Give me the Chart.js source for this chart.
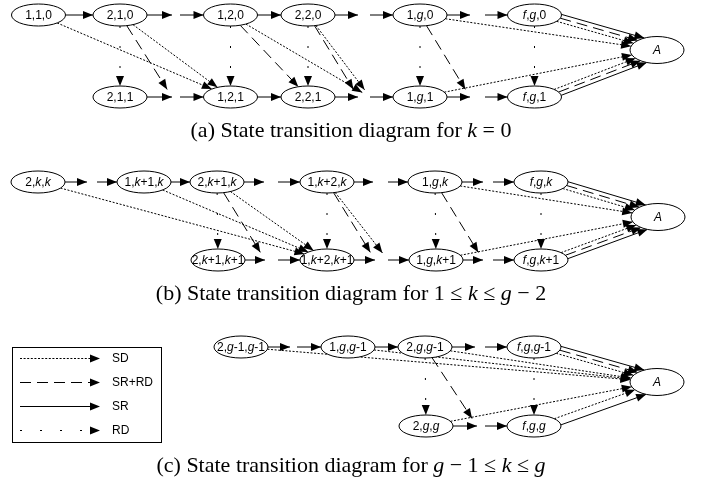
<!DOCTYPE html>
<html><head><meta charset="utf-8">
<script src="https://cdn.jsdelivr.net/npm/chart.js@4/dist/chart.umd.min.js"></script>
<style>html,body{margin:0;padding:0;background:#fff}canvas{display:block}</style>
</head><body>
<canvas id="c" width="707" height="487"></canvas>
<script>
// ---------------- data ----------------
const nodeIds = ['a110','a210','a120','a220','a1g0','afg0','a211','a121','a221','a1g1','afg1','aA',
  'b2kk','b1k1k','b2k1k','b1k2k','b1gk','bfgk','b2k1k1','b1k2k1','b1gk1','bfgk1','bA',
  'c2g1g1','c1gg1','c2gg1','cfgg1','c2gg','cfgg','cA'];
const nodeLabels = ['1,1,0','2,1,0','1,2,0','2,2,0','1,g,0','f,g,0','2,1,1','1,2,1','2,2,1','1,g,1','f,g,1','A',
  '2,k,k','1,k+1,k','2,k+1,k','1,k+2,k','1,g,k','f,g,k','2,k+1,k+1','1,k+2,k+1','1,g,k+1','f,g,k+1','A',
  '2,g-1,g-1','1,g,g-1','2,g,g-1','f,g,g-1','2,g,g','f,g,g','A'];
const nodeX = [38.5,120,230.5,308,420,534.5,120,230.5,308,420,534.5,657,
  38,144,217,327,435,541,218,327,436,541,658,
  241,348,425,534,426,534,657];
const nodeY = [15,15,15,15,15,15,97,97,97,97,97,50,
  182,182,182,182,182,182,260,260,260,260,217,
  347,347,347,347,426,426,382];

const gapIds = ['gat1L','gat1R','gat2L','gat2R','gat3L','gat3R','gab1L','gab1R','gab2L','gab2R','gab3L','gab3R',
  'gbt1L','gbt1R','gbt2L','gbt2R','gbt3L','gbt3R','gbt4L','gbt4R','gbb2L','gbb2R','gbb3L','gbb3R','gbb4L','gbb4R',
  'gct1L','gct1R','gct2L','gct2R','gcb2L','gcb2R'];
const gapX = [172,180,358,370,470,485,172,180,358,370,470,485,
  87,97,264,278,373,388,483,493,265,278,375,388,483,493,
  290,297,475,485,477,485];
const gapY = [15,15,15,15,15,15,97,97,97,97,97,97,
  182,182,182,182,182,182,182,182,260,260,260,260,260,260,
  347,347,347,347,426,426];

const srEdges = [
  ['a110','a210'],['a210','gat1L'],['gat1R','a120'],['a120','a220'],['a220','gat2L'],['gat2R','a1g0'],['a1g0','gat3L'],['gat3R','afg0'],['afg0','aA'],
  ['a211','gab1L'],['gab1R','a121'],['a121','a221'],['a221','gab2L'],['gab2R','a1g1'],['a1g1','gab3L'],['gab3R','afg1'],['afg1','aA'],
  ['b2kk','gbt1L'],['gbt1R','b1k1k'],['b1k1k','b2k1k'],['b2k1k','gbt2L'],['gbt2R','b1k2k'],['b1k2k','gbt3L'],['gbt3R','b1gk'],['b1gk','gbt4L'],['gbt4R','bfgk'],['bfgk','bA'],
  ['b2k1k1','gbb2L'],['gbb2R','b1k2k1'],['b1k2k1','gbb3L'],['gbb3R','b1gk1'],['b1gk1','gbb4L'],['gbb4R','bfgk1'],['bfgk1','bA'],
  ['c2g1g1','gct1L'],['gct1R','c1gg1'],['c1gg1','c2gg1'],['c2gg1','gct2L'],['gct2R','cfgg1'],['cfgg1','cA'],
  ['c2gg','gcb2L'],['gcb2R','cfgg'],['cfgg','cA']];
const rdEdges = [['a210','a211'],['a120','a121'],['a220','a221'],['a1g0','a1g1'],['afg0','afg1'],
  ['b2k1k','b2k1k1'],['b1k2k','b1k2k1'],['b1gk','b1gk1'],['bfgk','bfgk1'],
  ['c2gg1','c2gg'],['cfgg1','cfgg']];
const srrdEdges = [['a210','gab1L'],['a120','a221'],['a220','gab2L'],['a1g0','gab3L'],['afg0','aA'],['afg1','aA'],
  ['b2k1k','gbb2L'],['b1k2k','gbb3L'],['b1gk','gbb4L'],['bfgk','bA'],['bfgk1','bA'],
  ['c2gg1','gcb2L'],['cfgg1','cA']];
const sdEdges = [['a110','a121'],['a210','a121'],['a120','gab2R'],['a220','gab2R'],['a1g0','aA'],['afg0','aA'],['a1g1','aA'],['afg1','aA'],
  ['b2kk','b1k2k1'],['b1k1k','b1k2k1'],['b2k1k','b1k2k1'],['b1k2k','gbb3R'],['b1gk','bA'],['bfgk','bA'],['b1gk1','bA'],['bfgk1','bA'],
  ['c2g1g1','cA'],['c1gg1','cA'],['c2gg1','cA'],['cfgg1','cA'],['c2gg','cA'],['cfgg','cA']];

const legendLabels = ['SD','SR+RD','SR','RD'];
const captionTexts = ['(a) State transition diagram for *k* = 0',
  '(b) State transition diagram for 1 \u2264 *k* \u2264 *g* \u2212 2',
  '(c) State transition diagram for *g* \u2212 1 \u2264 *k* \u2264 *g*'];

// ---------------- styles ----------------
const DASH = {'SD':[2,1.6], 'SR+RD':[11,6], 'SR':[], 'RD':[2,18]};
const OFFSET = {'SR':8, 'SR+RD':4, 'SD':0, 'RD':0};
const RX = 27, RY = 11, RY_A = 13.5;
const LABEL_FONT = '12px "Liberation Sans", Arial, sans-serif';
const LABEL_IFONT = 'italic 12px "Liberation Sans", Arial, sans-serif';
const CAP_FONT = '22px "Liberation Serif", "Times New Roman", serif';
const CAP_IFONT = 'italic 22px "Liberation Serif", "Times New Roman", serif';
const CAP_BASE = [137, 300, 472];
const LEG = {x0:12, y0:347, w:149, h:95, lineX0:20, lineX1:100, textX:112, rowY:[358,382,406,430]};

// ---------------- geometry ----------------
const P = {};
nodeIds.forEach((id,i)=>{P[id] = {x:nodeX[i], y:nodeY[i], node:true, rx:RX, ry: nodeLabels[i]==='A'?RY_A:RY};});
gapIds.forEach((id,i)=>{P[id] = {x:gapX[i], y:gapY[i], node:false};});

function exitPt(n, px, py, dx, dy){
  const ux=(px-n.x)/n.rx, uy=(py-n.y)/n.ry, vx=dx/n.rx, vy=dy/n.ry;
  const a=vx*vx+vy*vy, b=2*(ux*vx+uy*vy), c=ux*ux+uy*uy-1;
  const t=(-b+Math.sqrt(Math.max(0,b*b-4*a*c)))/(2*a);
  return {x:px+t*dx, y:py+t*dy};
}
const allEdges = [];
[['SR',srEdges],['RD',rdEdges],['SR+RD',srrdEdges],['SD',sdEdges]].forEach(([t,list])=>list.forEach(e=>allEdges.push({from:e[0],to:e[1],type:t})));
const groupCount = {};
allEdges.forEach(e=>{const k=e.from+'|'+e.to; groupCount[k]=(groupCount[k]||0)+1;});

function endpoints(e){
  const A=P[e.from], B=P[e.to];
  const dx=B.x-A.x, dy=B.y-A.y, L=Math.hypot(dx,dy), ux=dx/L, uy=dy/L;
  let nx=-uy, ny=ux;
  if (ny*(A.y-B.y) < 0){nx=-nx; ny=-ny;}
  const off = groupCount[e.from+'|'+e.to]>1 ? OFFSET[e.type] : 0;
  let s, t;
  if (A.node) s = exitPt(A, A.x+nx*off, A.y+ny*off, ux, uy); else s = {x:A.x, y:A.y};
  if (B.node) t = exitPt(B, B.x+nx*off, B.y+ny*off, -ux, -uy);
  else if (A.y===B.y) t = {x:B.x, y:B.y};
  else t = {x:B.x-ux*9, y:B.y-uy*9};
  return [s,t];
}

const datasets = [{
  label:'states', data: nodeIds.map((id,i)=>({x:nodeX[i], y:nodeY[i]})),
  pointRadius:0, showLine:false, clip:false
}];
allEdges.forEach(e=>{
  datasets.push({label:e.type, data:endpoints(e), showLine:true, borderColor:'#000', borderWidth:1,
    borderDash:DASH[e.type], pointRadius:0, fill:false, tension:0, clip:false, edgeType:e.type});
});

// ---------------- drawing helpers ----------------
function arrowHead(ctx,x0,y0,x1,y1,len,hw){
  len=len||10; hw=hw||4;
  const dx=x1-x0, dy=y1-y0, L=Math.hypot(dx,dy), ux=dx/L, uy=dy/L;
  const bx=x1-ux*len, by=y1-uy*len;
  ctx.beginPath(); ctx.moveTo(x1,y1);
  ctx.lineTo(bx-uy*hw, by+ux*hw); ctx.lineTo(bx+uy*hw, by-ux*hw);
  ctx.closePath(); ctx.fill();
}
function drawRuns(ctx, runs, cx, y, f, fi){
  let w=0; runs.forEach(r=>{ctx.font=r.it?fi:f; r.w=ctx.measureText(r.t).width; w+=r.w;});
  let x=cx-w/2;
  runs.forEach(r=>{ctx.font=r.it?fi:f; ctx.fillText(r.t,x,y); x+=r.w;});
}
function labelRuns(s){ return (s.match(/[A-Za-z]+|[^A-Za-z]+/g)||[]).map(t=>({t, it:/[A-Za-z]/.test(t)})); }
function capRuns(s){ return s.split('*').map((t,i)=>({t, it:i%2===1})).filter(r=>r.t.length); }

const diagramPlugin = {
  id:'diagram',
  beforeDraw(chart){const c=chart.ctx; c.save(); c.fillStyle='#fff'; c.fillRect(0,0,chart.width,chart.height); c.restore();},
  afterDatasetsDraw(chart){
    const ctx=chart.ctx, xs=chart.scales.x, ys=chart.scales.y;
    ctx.save();
    const nm = chart.getDatasetMeta(0);
    nodeIds.forEach((id,i)=>{
      const p=nm.data[i], n=P[id];
      const rx=Math.abs(xs.getPixelForValue(n.x+n.rx)-p.x), ry=Math.abs(ys.getPixelForValue(n.y+n.ry)-p.y);
      ctx.beginPath(); ctx.ellipse(p.x,p.y,rx,ry,0,0,Math.PI*2);
      ctx.fillStyle='#fff'; ctx.fill(); ctx.lineWidth=1; ctx.strokeStyle='#000'; ctx.setLineDash([]); ctx.stroke();
    });
    ctx.fillStyle='#000';
    chart.data.datasets.forEach((ds,di)=>{
      if(!ds.edgeType) return;
      const m=chart.getDatasetMeta(di); const a=m.data[0], b=m.data[1];
      arrowHead(ctx,a.x,a.y,b.x,b.y);
    });
    ctx.textBaseline='middle'; ctx.fillStyle='#000';
    nodeIds.forEach((id,i)=>{const p=nm.data[i]; drawRuns(ctx,labelRuns(nodeLabels[i]),p.x,p.y+0.5,LABEL_FONT,LABEL_IFONT);});
    ctx.strokeStyle='#000'; ctx.lineWidth=1; ctx.setLineDash([]);
    ctx.strokeRect(LEG.x0+0.5, LEG.y0+0.5, LEG.w, LEG.h);
    legendLabels.forEach((lab,i)=>{
      const y=LEG.rowY[i]+0.5;
      ctx.setLineDash(DASH[lab]); ctx.beginPath(); ctx.moveTo(LEG.lineX0,y); ctx.lineTo(LEG.lineX1-6,y); ctx.stroke();
      ctx.setLineDash([]); arrowHead(ctx,LEG.lineX0,y,LEG.lineX1,y);
      ctx.font=LABEL_FONT; ctx.textAlign='left'; ctx.fillText(lab, LEG.textX, y);
    });
    ctx.textBaseline='alphabetic';
    captionTexts.forEach((s,i)=>drawRuns(ctx,capRuns(s),351,CAP_BASE[i],CAP_FONT,CAP_IFONT));
    ctx.restore();
  }
};

new Chart(document.getElementById('c'), {
  type:'scatter',
  data:{datasets},
  options:{
    responsive:false, devicePixelRatio:1, animation:false, events:[],
    layout:{padding:0},
    plugins:{legend:{display:false}, tooltip:{enabled:false}},
    scales:{
      x:{type:'linear', min:0, max:707, display:false},
      y:{type:'linear', min:0, max:487, reverse:true, display:false}
    }
  },
  plugins:[diagramPlugin]
});
</script>
</body></html>
